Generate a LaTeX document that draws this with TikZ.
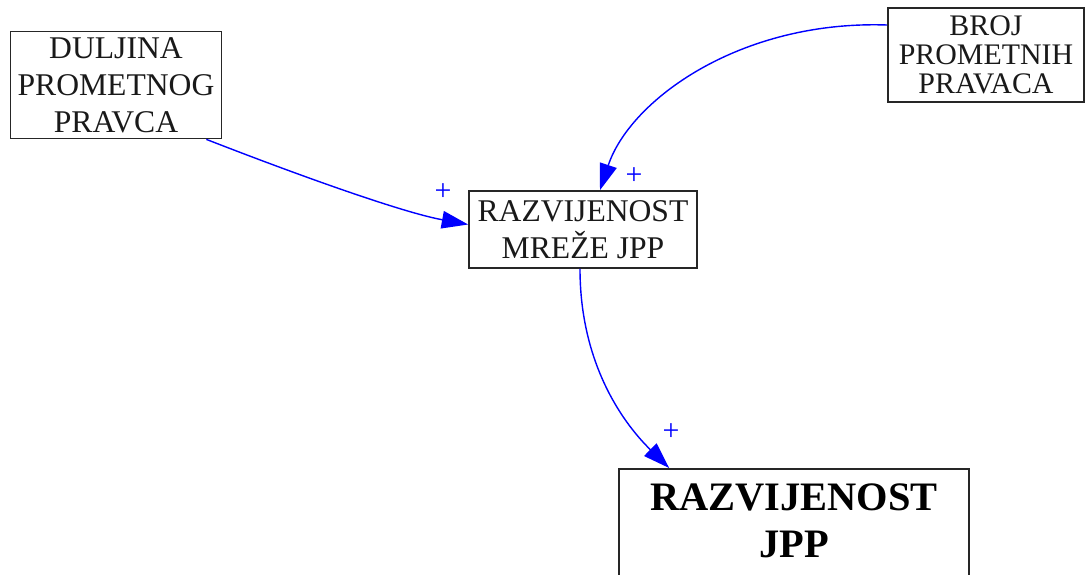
\documentclass[tikz,border=0pt]{standalone}
\usepackage{fontspec}
\setmainfont{Liberation Serif}
\usetikzlibrary{arrows.meta,calc}
\begin{document}
\begin{tikzpicture}[x=0.02cm,y=-0.02cm,
  box/.style={draw=black!85,line width=1pt,rectangle,align=center,inner sep=0pt,text=black!90},
  lbl/.style={font=\fontsize{18}{21}\selectfont},
  conn/.style={draw=blue,line width=0.8pt,-{Triangle[length=15pt,width=10pt]}},
  sign/.style={text=blue,font=\fontsize{17}{17}\selectfont,inner sep=0pt}]
\useasboundingbox (0,0) rectangle (1086,575);
\clip (0,0) rectangle (1086,575);
\node[box,lbl,minimum width=4.22cm,minimum height=2.14cm] (dul) at (116,85) {DULJINA\\PROMETNOG\\PRAVCA};
\node[box,font=\fontsize{17}{16.5}\selectfont,minimum width=3.92cm,minimum height=1.88cm] (broj) at (986,55) {BROJ\\PROMETNIH\\PRAVACA};
\node[box,lbl,minimum width=4.56cm,minimum height=1.54cm] (mid) at (583,229.5) {RAZVIJENOST\\MREŽE JPP};
\node[box,minimum width=7cm,minimum height=2.6cm,anchor=north] (bot) at (794,468) {};
\node[align=center,inner sep=0pt,text=black,font=\bfseries\fontsize{23}{27}\selectfont] (bott) at (794,521) {RAZVIJENOST\\JPP};
\draw[conn] ($(dul.south east)+(-16,0)$) .. controls (290,172) and (400,212) .. ($(mid.west)+(0,-5)$);
\draw[conn] ($(broj.west)+(0,-30)$) .. controls (740,20) and (630,100) .. ($(mid.north)+(17,0)$);
\draw[conn] ($(mid.south)+(-3,0)$) .. controls (580,360) and (620,420) .. ($(bot.north west)+(51,0)$);
\node[sign] (p1) at (443,192) {+};
\node[sign] (p2) at (634,176) {+};
\node[sign] (p3) at (671,432) {+};
\end{tikzpicture}
\end{document}
